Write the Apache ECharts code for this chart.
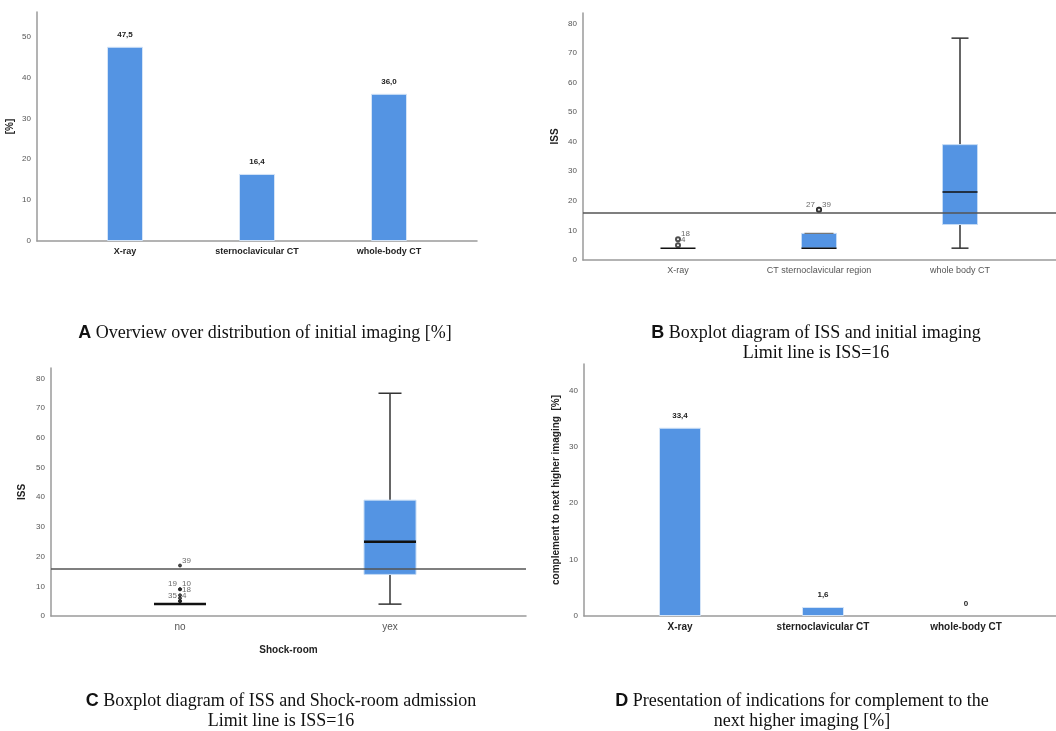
<!DOCTYPE html>
<html>
<head>
<meta charset="utf-8">
<script src="https://cdn.jsdelivr.net/npm/echarts@6/dist/echarts.min.js"></script>
<style>
  html, body { margin: 0; background: #fff; }
  #chart { width: 1056px; height: 731px; }
</style>
</head>
<body>
<div id="chart"></div>
<script>
// A: initial imaging [%]
const catsA = ['X-ray', 'sternoclavicular CT', 'whole-body CT'];
const valsA = [47.5, 16.4, 36.0];

// B: ISS by initial imaging, [min, Q1, median, Q3, max]
const catsB = ['X-ray', 'CT sternoclavicular region', 'whole body CT'];
const boxB = [[4, 4, 4, 4, 4], [4, 4, 4, 9, 9], [4, 12, 23, 39, 75]];
// outliers: [category index, ISS, case no.]
const outB = [[0, 7, '18'], [0, 5, '4'], [1, 17, '27'], [1, 17, '39']];

// C: ISS by shock-room admission
const catsC = ['no', 'yex'];
const boxC = [[4, 4, 4, 4, 4], [4, 14, 25, 39, 75]];
const outC = [[0, 17, '39'], [0, 9, '19'], [0, 9, '10'], [0, 7, '18'], [0, 6, ''], [0, 5, '35'], [0, 5, '4']];

// D: complement to next higher imaging [%]
const catsD = ['X-ray', 'sternoclavicular CT', 'whole-body CT'];
const valsD = [33.4, 1.6, 0];

const issLimit = 16;

const BLUE = '#5494e3';

// grid boxes; x axis runs in pixels, first category at `gap`, then every `step`
const panels = [
  { left: 37, top: 12, width: 440, height: 229, gap: 88, step: 132, max: 56 },
  { left: 583, top: 13, width: 473, height: 247, gap: 95, step: 141, max: 83.5 },
  { left: 51, top: 368, width: 475, height: 248, gap: 129, step: 210, max: 83.5 },
  { left: 584, top: 364, width: 472, height: 252, gap: 96, step: 143, max: 44.7 }
];
const pos = (p, i) => p.gap + i * p.step;

const fmt = v => (v === 0 ? '0' : v.toFixed(1).replace('.', ','));

function xAxisFor(idx, cats, lbl, extra) {
  const p = panels[idx];
  const vals = cats.map((c, i) => pos(p, i));
  return Object.assign({
    gridIndex: idx,
    type: 'value',
    min: 0,
    max: p.width,
    axisLine: { show: true, lineStyle: { color: '#9a9a9a', width: 1.5 } },
    axisTick: { show: false },
    splitLine: { show: false },
    axisLabel: Object.assign({
      customValues: vals,
      margin: 6,
      fontFamily: 'Liberation Sans',
      formatter: v => cats[vals.indexOf(v)] || ''
    }, lbl)
  }, extra || {});
}

function yAxisFor(idx, name, nameGap, nameSize) {
  const p = panels[idx];
  return {
    gridIndex: idx,
    type: 'value',
    min: 0,
    max: p.max,
    interval: 10,
    name: name,
    nameLocation: 'middle',
    nameGap: nameGap,
    nameTextStyle: { fontFamily: 'Liberation Sans', fontWeight: 'bold', fontSize: nameSize, color: '#222' },
    axisLine: { show: true, lineStyle: { color: '#9a9a9a', width: 1.5 } },
    axisTick: { show: false },
    splitLine: { show: false },
    axisLabel: { fontFamily: 'Liberation Sans', fontSize: 8, color: '#555', margin: 6, showMaxLabel: false }
  };
}

function barSeries(idx, vals, barWidth) {
  const p = panels[idx];
  return {
    type: 'bar',
    xAxisIndex: idx,
    yAxisIndex: idx,
    barWidth: barWidth,
    itemStyle: { color: BLUE, borderColor: '#d4e4f7', borderWidth: 1 },
    label: {
      show: true,
      position: 'top',
      distance: 8,
      fontFamily: 'Liberation Sans',
      fontWeight: 'bold',
      fontSize: 8,
      color: '#222',
      formatter: q => fmt(q.value[1])
    },
    data: vals.map((v, i) => ({
      value: [pos(p, i), v],
      itemStyle: v === 0 ? { borderWidth: 0 } : undefined
    }))
  };
}

function boxSeries(idx, boxes, boxW, capW, medW) {
  const p = panels[idx];
  return {
    type: 'custom',
    xAxisIndex: idx,
    yAxisIndex: idx,
    z: 3,
    encode: { x: 0, y: [1, 2, 3, 4, 5] },
    renderItem: (params, api) => {
      const x = api.value(0);
      const mn = api.value(1), q1 = api.value(2), md = api.value(3), q3 = api.value(4), mx = api.value(5);
      const c = v => api.coord([x, v]);
      const cx = c(md)[0];
      const yMin = c(mn)[1], yQ1 = c(q1)[1], yMd = c(md)[1], yQ3 = c(q3)[1], yMax = c(mx)[1];
      const line = '#333';
      const kids = [];
      if (yMax < yQ3) {
        kids.push({ type: 'line', shape: { x1: cx, y1: yQ3, x2: cx, y2: yMax }, style: { stroke: line, lineWidth: 1.5 } });
        kids.push({ type: 'line', shape: { x1: cx - capW / 2, y1: yMax, x2: cx + capW / 2, y2: yMax }, style: { stroke: line, lineWidth: 1.5 } });
      }
      if (yMin > yQ1) {
        kids.push({ type: 'line', shape: { x1: cx, y1: yQ1, x2: cx, y2: yMin }, style: { stroke: line, lineWidth: 1.5 } });
        kids.push({ type: 'line', shape: { x1: cx - capW / 2, y1: yMin, x2: cx + capW / 2, y2: yMin }, style: { stroke: line, lineWidth: 1.5 } });
      }
      if (yQ1 - yQ3 > 0.5) {
        kids.push({ type: 'rect', shape: { x: cx - boxW / 2, y: yQ3, width: boxW, height: yQ1 - yQ3 }, style: { fill: BLUE, stroke: '#c4dbf5', lineWidth: 1 } });
        if (mx === q3) {
          // whisker cap sitting on the box top
          kids.push({ type: 'line', shape: { x1: cx - boxW / 2 + 3, y1: yQ3, x2: cx + boxW / 2 - 3, y2: yQ3 }, style: { stroke: '#777', lineWidth: 1.2 } });
        }
      }
      kids.push({ type: 'line', shape: { x1: cx - boxW / 2, y1: yMd, x2: cx + boxW / 2, y2: yMd }, style: { stroke: '#111', lineWidth: medW } });
      return { type: 'group', children: kids };
    },
    data: boxes.map((b, i) => [pos(p, i)].concat(b))
  };
}

function outlierSeries(idx, out, symbol, size) {
  const p = panels[idx];
  const data = out.map((o, k) => {
    const j = out.findIndex((q, m) => m !== k && q[0] === o[0] && q[1] === o[1]);
    const onLeft = j > k;
    return {
      value: [pos(p, o[0]), o[1]],
      name: o[2],
      label: { position: onLeft ? 'left' : 'right', offset: onLeft ? [1, -5] : [-2, -5] }
    };
  });
  return {
    type: 'scatter',
    xAxisIndex: idx,
    yAxisIndex: idx,
    z: 4,
    symbol: symbol,
    symbolSize: size,
    itemStyle: { color: '#222', borderColor: '#222', borderWidth: 1 },
    label: {
      show: true,
      fontFamily: 'Liberation Sans',
      fontSize: 8,
      color: '#444',
      distance: 2,
      formatter: q => q.name
    },
    markLine: {
      silent: true,
      symbol: 'none',
      label: { show: false },
      lineStyle: { color: '#555', width: 1.5, type: 'solid' },
      data: [{ yAxis: issLimit }]
    },
    data: data
  };
}

const capRich = { a: { fontFamily: 'Liberation Sans', fontWeight: 'bold', fontSize: 18, color: '#111' },
                  b: { fontFamily: 'Liberation Serif', fontSize: 18, color: '#111', lineHeight: 20 } };

function caption(text, x, y) {
  return { text: text, left: x, top: y, textAlign: 'center', padding: 0,
           textStyle: { fontFamily: 'Liberation Serif', fontSize: 18, fontWeight: 'normal', color: '#111', lineHeight: 20, rich: capRich } };
}

const catLabelBold = { fontWeight: 'bold', fontSize: 9, color: '#222' };
const catLabelPlain = { fontSize: 9, color: '#555' };

const chart = echarts.init(document.getElementById('chart'));
chart.setOption({
  backgroundColor: '#fff',
  animation: false,
  title: [
    caption('{a|A} {b|Overview over distribution of initial imaging [%]}', 265, 323),
    caption('{a|B} {b|Boxplot diagram of ISS and initial imaging}\n{b|Limit line is ISS=16}', 816, 323),
    caption('{a|C} {b|Boxplot diagram of ISS and Shock-room admission}\n{b|Limit line is ISS=16}', 281, 691),
    caption('{a|D} {b|Presentation of indications for complement to the}\n{b|next higher imaging [%]}', 802, 691)
  ],
  grid: panels.map(p => ({ left: p.left, top: p.top, width: p.width, height: p.height, outerBoundsMode: 'none' })),
  xAxis: [
    xAxisFor(0, catsA, catLabelBold),
    xAxisFor(1, catsB, catLabelPlain),
    xAxisFor(2, catsC, { fontSize: 10, color: '#555' }, {
      name: 'Shock-room', nameLocation: 'middle', nameGap: 29,
      nameTextStyle: { fontFamily: 'Liberation Sans', fontWeight: 'bold', fontSize: 10, color: '#222' }
    }),
    xAxisFor(3, catsD, { fontWeight: 'bold', fontSize: 10, color: '#222' })
  ],
  yAxis: [
    yAxisFor(0, '[%]', 22, 10),
    yAxisFor(1, 'ISS', 23, 10),
    yAxisFor(2, 'ISS', 24, 10),
    yAxisFor(3, 'complement to next higher imaging  [%]', 23, 10)
  ],
  series: [
    barSeries(0, valsA, 36),
    boxSeries(1, boxB, 35, 17, 1.5),
    outlierSeries(1, outB, 'emptyCircle', 4),
    boxSeries(2, boxC, 52, 23, 2.5),
    outlierSeries(2, outC, 'circle', 3),
    barSeries(3, valsD, 42)
  ]
});
</script>
</body>
</html>
